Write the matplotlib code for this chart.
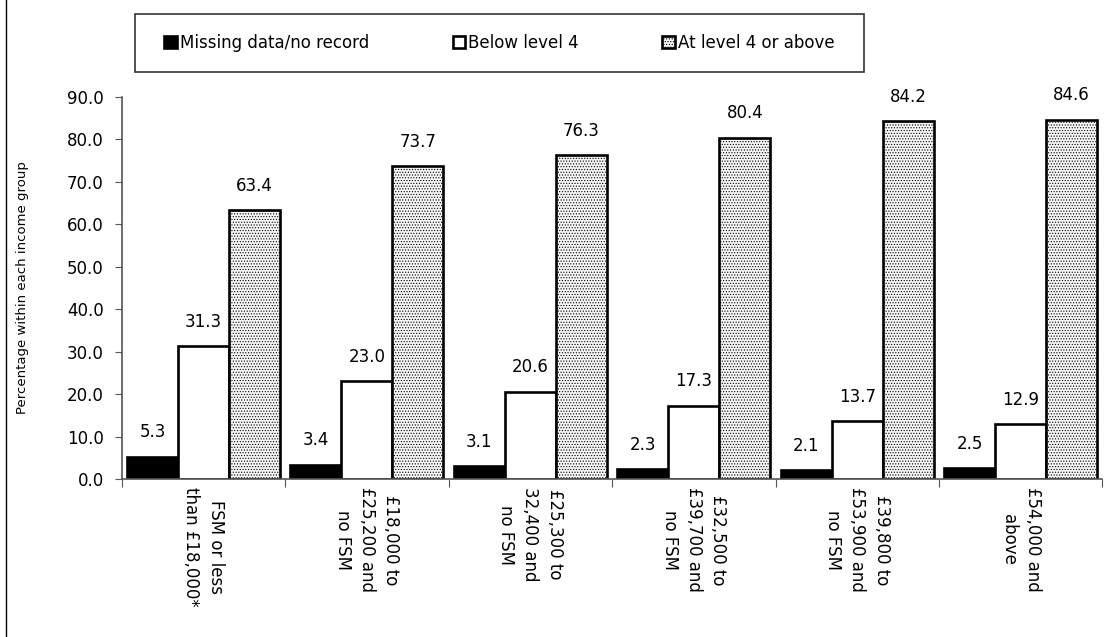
import numpy as np
import matplotlib
matplotlib.use("Agg")
import matplotlib.pyplot as plt
from matplotlib.lines import Line2D
from matplotlib.patches import Rectangle

plt.rcParams['font.family'] = ['DejaVu Sans']
plt.rcParams['hatch.color'] = '#c6c6c6'
plt.rcParams['hatch.linewidth'] = 0.5

# income groups and the three outcome series (percent)
groups = [
    "FSM or less\nthan £18,000*",
    "£18,000 to\n£25,200 and\nno FSM",
    "£25,300 to\n32,400 and\nno FSM",
    "£32,500 to\n£39,700 and\nno FSM",
    "£39,800 to\n£53,900 and\nno FSM",
    "£54,000 and\nabove",
]
missing = [5.3, 3.4, 3.1, 2.3, 2.1, 2.5]
below = [31.3, 23.0, 20.6, 17.3, 13.7, 12.9]
above = [63.4, 73.7, 76.3, 80.4, 84.2, 84.6]
series_names = ["Missing data/no record", "Below level 4", "At level 4 or above"]
y_ticks = [0, 10, 20, 30, 40, 50, 60, 70, 80, 90]

fig = plt.figure(figsize=(11.17, 6.37), dpi=100)
ax = fig.add_axes([0.109, 0.248, 0.878, 0.600])

x = np.arange(len(groups)) + 0.5
w = 0.312
styles = [
    dict(facecolor='black', hatch=None),
    dict(facecolor='white', hatch=None),
    dict(facecolor='#f6f6f6', hatch='......'),
]
handles = []
for k, (vals, st) in enumerate(zip([missing, below, above], styles)):
    bars = ax.bar(x + (k - 1) * w, vals, width=w, facecolor=st['facecolor'],
                  hatch=st['hatch'], edgecolor='black', linewidth=1.9,
                  label=series_names[k])
    handles.append(bars)
    for b, v in zip(bars, vals):
        ax.annotate(f"{v:.1f}", (b.get_x() + b.get_width() / 2, v),
                    xytext=(0, 11), textcoords='offset points',
                    ha='center', va='bottom', fontsize=12)

ax.set_xlim(0, len(groups))
ax.set_ylim(0, 90)
ax.set_yticks(y_ticks)
ax.set_yticklabels([f"{t:.1f}" for t in y_ticks], fontsize=12)
ax.set_ylabel("Percentage within each income group", fontsize=9.5, labelpad=27)

# ticks at group boundaries, labels at group centres
ax.set_xticks(np.arange(len(groups) + 1))
ax.set_xticklabels([])
ax.set_xticks(x, minor=True)
ax.set_xticklabels(groups, minor=True, rotation=270, fontsize=12,
                   ha='center', va='top', multialignment='center', linespacing=1.45)
ax.tick_params(axis='x', which='minor', length=0, pad=6)
ax.tick_params(axis='x', which='major', length=6, direction='out', color='#555555')
ax.tick_params(axis='y', length=5, direction='out', color='#555555', pad=8)

for s in ['top', 'right']:
    ax.spines[s].set_visible(False)
for s in ['left', 'bottom']:
    ax.spines[s].set_color('#555555')
    ax.spines[s].set_linewidth(1.2)

# legend box drawn separately, entries centred inside
box = (135 / 1117, 1 - 72 / 637, (864 - 135) / 1117, 58 / 637)
fig.add_artist(Rectangle(box[:2], box[2], box[3], transform=fig.transFigure,
                         facecolor='white', edgecolor='#333333', linewidth=1.2))
leg = fig.legend(handles=handles, loc='center', ncol=3,
                 bbox_to_anchor=(box[0] + box[2] / 2, box[1] + box[3] / 2),
                 fontsize=12, frameon=False,
                 handlelength=0.75, handleheight=0.75, handletextpad=0.2,
                 borderaxespad=0.0, columnspacing=5.0)

# left border of the original chart area
fig.add_artist(Line2D([6 / 1117, 6 / 1117], [0, 1], color='black', linewidth=1.0))

fig.savefig("out.png", dpi=100)
